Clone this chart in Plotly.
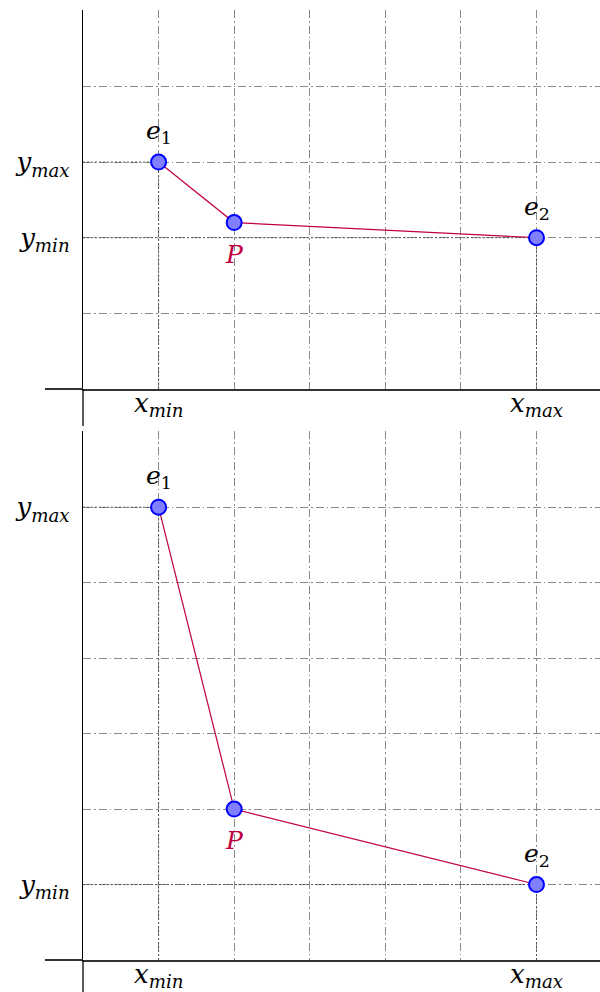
import plotly.graph_objects as go
from plotly.subplots import make_subplots

# Points: end points e1, e2 and the interior point P
pt_x = [1, 2, 6]
top_y = [3, 2.2, 2]
bottom_y = [6, 2, 1]
pt_labels = ["<i>e</i><sub>1</sub>", "<i>P</i>", "<i>e</i><sub>2</sub>"]
pt_label_above = [True, False, True]
pt_label_colors = ["black", "#BF0040", "black"]

x_tick_text = ["<i>x</i><sub><i>min</i></sub>", "<i>x</i><sub><i>max</i></sub>"]
y_tick_text = ["<i>y</i><sub><i>min</i></sub>", "<i>y</i><sub><i>max</i></sub>"]

# Axis extents (grid units)
x_max_range = 6.84
top_y_range = 5
bottom_y_range = 7

W, H = 600, 992
M_L, M_R, M_T, M_B = 83, 0, 10, 32
plot_w = W - M_L - M_R
plot_h = H - M_T - M_B
# panel pixel edges (top, bottom)
top_panel = (10, 389)
bot_panel = (431, 960)


def py(pix):
    return (H - M_B - pix) / plot_h


def px(pix):
    return (pix - M_L) / plot_w


fig = make_subplots(rows=2, cols=1)
fig.update_layout(
    yaxis=dict(domain=[py(top_panel[1]), py(top_panel[0])]),
    yaxis2=dict(domain=[py(bot_panel[1]), py(bot_panel[0])]),
)

SERIF = "DejaVu Serif"
LINE_COL = "#BF0040"
GRID_COL = "#8a8a8a"
GUIDE_COL = "#555555"
GRID_DASH = "8px,3px,1.5px,3px"

for row, ys in ((1, top_y), (2, bottom_y)):
    xa = "x" if row == 1 else "x2"
    ya = "y" if row == 1 else "y2"
    # dotted guides from the end points to both axes
    gx, gy = [], []
    for i in (0, 2):
        gx += [0, pt_x[i], None, pt_x[i], pt_x[i], None]
        gy += [ys[i], ys[i], None, 0, ys[i], None]
    fig.add_trace(go.Scatter(x=gx, y=gy, mode="lines",
                             line=dict(color=GUIDE_COL, width=1, dash="2px,2px"),
                             hoverinfo="skip", showlegend=False), row=row, col=1)
    fig.add_trace(go.Scatter(
        x=pt_x, y=ys, mode="lines+markers",
        line=dict(color=LINE_COL, width=1.2),
        marker=dict(size=15, color="#8080FF", line=dict(color="#0000FF", width=2)),
        cliponaxis=False, showlegend=False), row=row, col=1)

    # point labels
    for x, y, lab, above, col in zip(pt_x, ys, pt_labels, pt_label_above, pt_label_colors):
        fig.add_annotation(x=x, y=y, xref=xa, yref=ya, text=lab, showarrow=False,
                           xanchor="center", yanchor="bottom" if above else "top",
                           yshift=12 if above else -15,
                           font=dict(family=SERIF, size=25, color=col))

    # x tick labels sit just under the horizontal axis
    for x, lab in zip([pt_x[0], pt_x[2]], x_tick_text):
        fig.add_annotation(x=x, y=0, xref=xa, yref=ya, text=lab, showarrow=False,
                           xanchor="center", yanchor="top", yshift=3,
                           font=dict(family=SERIF, size=26, color="black"))

    yr = top_y_range if row == 1 else bottom_y_range
    yt = [ys[2], ys[0]]
    fig.update_xaxes(range=[0, x_max_range], showticklabels=False, ticks="",
                     tickvals=[pt_x[0], pt_x[2]],
                     showgrid=True, gridcolor=GRID_COL, gridwidth=1, griddash=GRID_DASH,
                     minor=dict(dtick=1, tick0=0, showgrid=True, gridcolor=GRID_COL,
                                gridwidth=1, griddash=GRID_DASH),
                     zeroline=False, showline=True, linecolor="#333333", linewidth=2,
                     automargin=False, row=row, col=1)
    fig.update_yaxes(range=[0, yr + 0.01], tickvals=yt, ticktext=y_tick_text,
                     ticks="", ticklabelstandoff=7,
                     tickfont=dict(family=SERIF, size=26, color="black"),
                     showgrid=True, gridcolor=GRID_COL, gridwidth=1, griddash=GRID_DASH,
                     minor=dict(dtick=1, tick0=0, showgrid=True, gridcolor=GRID_COL,
                                gridwidth=1, griddash=GRID_DASH),
                     zeroline=False, showline=True, linecolor="black", linewidth=1.3,
                     automargin=False, row=row, col=1)

# axis line extensions past the origin
ext = [
    # top panel: x axis to the left, y axis downward
    dict(x0=px(45), x1=0, y0=py(top_panel[1]), y1=py(top_panel[1]), color="#333333", w=2),
    dict(x0=0, x1=0, y0=py(426), y1=py(top_panel[1]), color="black", w=1.3),
    # bottom panel
    dict(x0=px(45), x1=0, y0=py(bot_panel[1]), y1=py(bot_panel[1]), color="#333333", w=2),
    dict(x0=0, x1=0, y0=py(H), y1=py(bot_panel[1]), color="black", w=1.3),
]
for e in ext:
    fig.add_shape(type="line", xref="paper", yref="paper",
                  x0=e["x0"], x1=e["x1"], y0=e["y0"], y1=e["y1"],
                  line=dict(color=e["color"], width=e["w"]))

fig.update_layout(
    width=W, height=H,
    margin=dict(l=M_L, r=M_R, t=M_T, b=M_B),
    plot_bgcolor="white", paper_bgcolor="white",
    showlegend=False,
)

fig.write_html("out.html")
